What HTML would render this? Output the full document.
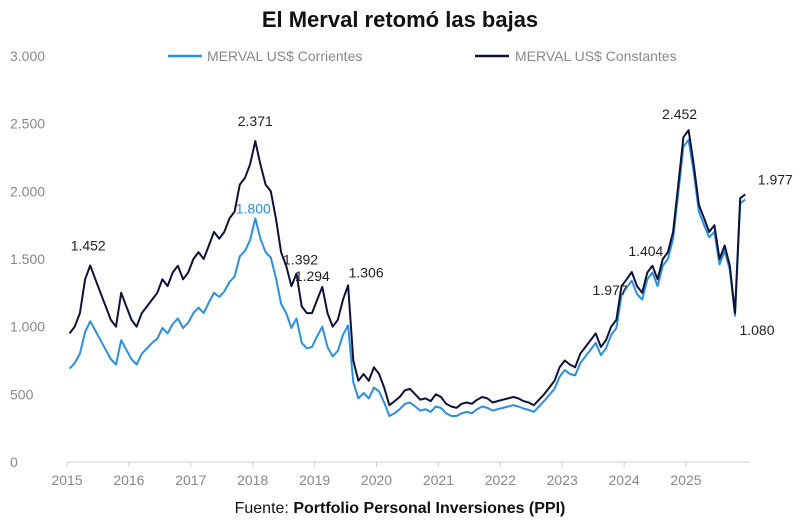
<!DOCTYPE html>
<html><head><meta charset="utf-8">
<style>
body{margin:0;background:#fff;width:800px;height:521px;overflow:hidden;font-family:"Liberation Sans",sans-serif;}
</style></head>
<body>
<svg id="chart" width="800" height="521" xmlns="http://www.w3.org/2000/svg" font-family="Liberation Sans, sans-serif">
<text x="400" y="27" text-anchor="middle" font-size="22" font-weight="bold" fill="#111">El Merval retomó las bajas</text>
<g>
<line x1="168" y1="56" x2="202" y2="56" stroke="#2a8fe0" stroke-width="2.5"/>
<text x="207" y="61" font-size="14" fill="#888">MERVAL US$ Corrientes</text>
<line x1="475" y1="56" x2="509" y2="56" stroke="#0d1238" stroke-width="2.5"/>
<text x="515" y="61" font-size="14" fill="#888">MERVAL US$ Constantes</text>
</g>
<g id="axes"></g>
<g id="series"></g>
<g id="labels"></g>
<text x="400" y="513" text-anchor="middle" font-size="16" fill="#111">Fuente: <tspan font-weight="bold">Portfolio Personal Inversiones (PPI)</tspan></text>
</svg>
<script>
const years = [2015,2016,2017,2018,2019,2020,2021,2022,2023,2024,2025];
const yTicks = [0,500,1000,1500,2000,2500,3000];
const yTickLabels = ["0","500","1.000","1.500","2.000","2.500","3.000"];
const constantes = [
950,1000,1100,1350,1452,1350,1250,1150,1050,1000,1250,1150,
1050,1000,1100,1150,1200,1250,1350,1300,1400,1450,1350,1400,
1500,1550,1500,1600,1700,1650,1700,1800,1850,2050,2100,2200,
2371,2200,2050,2000,1800,1550,1450,1300,1392,1150,1100,1100,
1200,1294,1100,1000,1050,1200,1306,750,600,650,600,700,
650,550,420,450,480,530,540,500,460,470,450,500,
480,430,410,400,430,440,430,460,480,470,440,450,
460,470,480,470,450,440,420,460,500,550,600,700,
750,720,700,800,850,900,950,850,900,1000,1050,1300,
1350,1404,1300,1250,1400,1450,1350,1500,1550,1700,2050,2400,
2452,2200,1900,1800,1700,1750,1500,1600,1450,1100,1950,1977];
const corrientes = [
690,730,800,960,1040,970,900,830,760,720,900,830,
760,720,800,840,880,910,990,950,1020,1060,990,1030,
1100,1140,1100,1180,1250,1220,1260,1330,1370,1520,1560,1640,
1800,1650,1550,1510,1360,1170,1100,990,1060,880,840,850,
930,1000,850,780,820,940,1010,590,470,510,470,550,
520,440,340,360,390,430,440,410,380,390,370,410,
400,360,340,340,360,370,360,390,410,400,380,390,
400,410,420,410,395,385,370,410,450,495,540,630,
680,650,640,730,780,830,880,790,840,940,990,1230,
1290,1340,1240,1200,1350,1400,1300,1450,1500,1650,1990,2330,
2380,2140,1850,1750,1660,1700,1460,1560,1420,1080,1910,1940];
const annotations = [
 {t:"1.452",i:4,s:"c",dx:-2,dy:-15},
 {t:"2.371",i:36,s:"c",dx:0,dy:-15},
 {t:"1.800",i:36,s:"b",dx:-2,dy:-5},
 {t:"1.392",i:44,s:"c",dx:4,dy:-9},
 {t:"1.294",i:49,s:"c",dx:-10,dy:-6},
 {t:"1.306",i:54,s:"c",dx:18,dy:-8},
 {t:"1.977",i:104,s:"c",dx:4,dy:-45},
 {t:"1.404",i:109,s:"c",dx:14,dy:-16},
 {t:"2.452",i:120,s:"c",dx:-9,dy:-11},
 {t:"1.080",i:129,s:"c",dx:22,dy:22},
 {t:"1.977",i:131,s:"c",dx:30,dy:-10}
];
const NS="http://www.w3.org/2000/svg";
const x0=67, pxPerYear=61.9, yBase=462, pxPerUnit=(462-56)/3000;
const xs=t=>x0+(t-2015)*pxPerYear;
const ys=v=>yBase-v*pxPerUnit;
const tOf=i=>2015+(i+0.5)/12;
function mk(tag,attrs,parent){const e=document.createElementNS(NS,tag);for(const k in attrs)e.setAttribute(k,attrs[k]);parent.appendChild(e);return e;}
const axes=document.getElementById('axes');
yTicks.forEach((v,k)=>{
 const e=mk('text',{x:10,y:ys(v)+5,'font-size':14,fill:'#888'},axes);
 
 
 e.textContent=yTickLabels[k];
});
const ax=mk('line',{x1:x0,y1:yBase,x2:750,y2:yBase,stroke:'#ccc','stroke-width':1},axes);


years.forEach(y=>{
 const tk=mk('line',{x1:xs(y),y1:yBase,x2:xs(y),y2:yBase+5,stroke:'#ccc'},axes);
 
 
 const e=mk('text',{x:xs(y),y:yBase+23,'font-size':14,fill:'#888','text-anchor':'middle'},axes);
 
 
 e.textContent=y;
});
const series=document.getElementById('series');
function line(data,color,name){
 const d=data.map((v,i)=>(i?'L':'M')+xs(tOf(i)).toFixed(1)+','+ys(v).toFixed(1)).join('');
 const p=mk('path',{d:d,fill:'none',stroke:color,'stroke-width':2,'stroke-linejoin':'round'},series);
 
 
}
line(corrientes,'#2a8fe0','corrientes-line');
line(constantes,'#0d1238','constantes-line');
const lab=document.getElementById('labels');
annotations.forEach(a=>{
 const v=(a.s==='b'?corrientes:constantes)[a.i];
 const e=mk('text',{x:xs(tOf(a.i))+a.dx,y:ys(v)+a.dy,'font-size':14,'text-anchor':'middle',fill:a.s==='b'?'#2a8fe0':'#222'},lab);
 
 
 e.textContent=a.t;
});
</script>
</body></html>
